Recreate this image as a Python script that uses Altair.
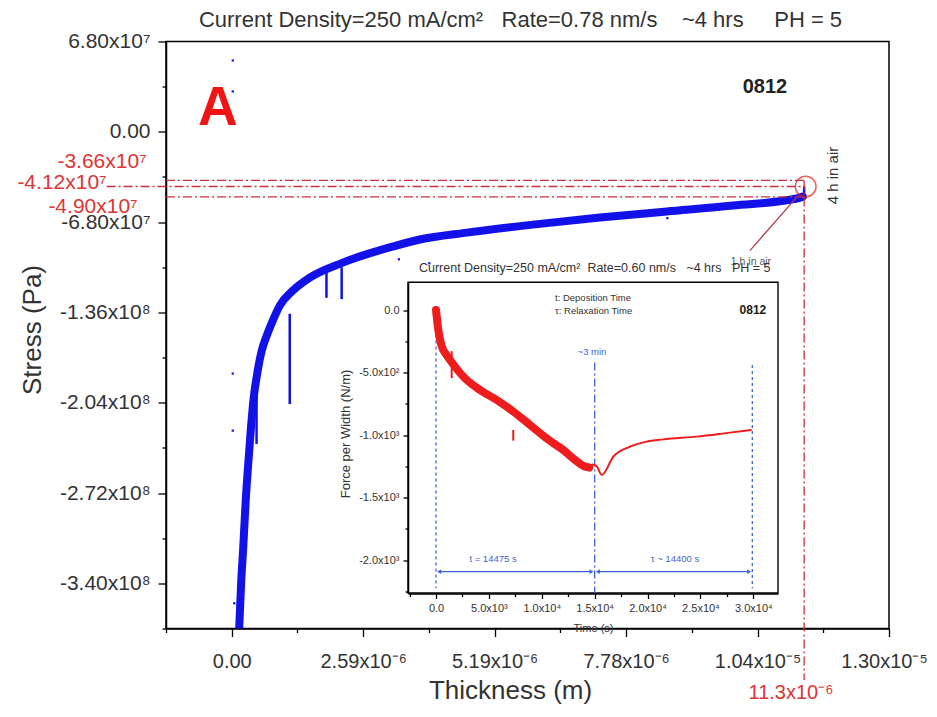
import altair as alt
import pandas as pd

SANS = "Liberation Sans, Arial, sans-serif"

# ---------------- main data: stress vs thickness ----------------
thickness = [0.148e-6, 0.188e-6, 0.227e-6, 0.276e-6, 0.326e-6, 0.375e-6, 0.434e-6,
             0.513e-6, 0.592e-6, 0.691e-6, 0.810e-6, 0.948e-6, 1.205e-6, 1.540e-6,
             2.192e-6, 3.179e-6, 3.712e-6, 4.641e-6, 5.944e-6, 7.267e-6, 8.590e-6,
             9.893e-6, 11.157e-6, 11.275e-6]
stress = [-3.734e8, -3.380e8, -3.132e8, -2.778e8, -2.499e8, -2.250e8, -2.002e8,
          -1.798e8, -1.648e8, -1.535e8, -1.422e8, -1.309e8, -1.196e8, -1.098e8,
          -9.85e7, -8.64e7, -8.11e7, -7.59e7, -6.99e7, -6.46e7, -6.00e7,
          -5.55e7, -5.02e7, -4.88e7]

spike_x = [0.49e-6, 1.145e-6, 1.87e-6, 2.17e-6, 11.3e-6]
spike_top = [-1.90e8, -1.37e8, -1.05e8, -1.02e8, -4.12e7]
spike_bottom = [-2.35e8, -2.05e8, -1.25e8, -1.26e8, -4.90e7]

outlier_x = [0.02e-6, 0.02e-6, 0.02e-6, 0.02e-6, 0.05e-6, 0.12e-6, 3.3e-6, 3.9e-6, 8.6e-6]
outlier_y = [5.37e7, 3.04e7, -1.82e8, -2.25e8, -3.55e8, -3.62e8, -9.6e7, -9.9e7, -6.5e7]

marker_levels = [-3.66e7, -4.12e7, -4.90e7]
marker_labels = ["-3.66x10\u2077", "-4.12x10\u2077", "-4.90x10\u2077"]
marker_thickness = 11.3e-6
marker_thickness_label = "11.3x10\u207b\u2076"

x_major = [0.0, 2.595e-6, 5.19e-6, 7.785e-6, 1.038e-5, 1.2975e-5]
x_major_labels = ["0.00", "2.59x10\u207b\u2076", "5.19x10\u207b\u2076", "7.78x10\u207b\u2076",
                  "1.04x10\u207b\u2075", "1.30x10\u207b\u2075"]
x_minor = [-1.2975e-6, 1.2975e-6, 3.8925e-6, 6.4875e-6, 9.0825e-6, 1.16775e-5]
y_major = [6.8e7, 0.0, -6.8e7, -1.36e8, -2.04e8, -2.72e8, -3.40e8]
y_major_labels = ["6.80x10\u2077", "0.00", "-6.80x10\u2077", "-1.36x10\u2078", "-2.04x10\u2078",
                  "-2.72x10\u2078", "-3.40x10\u2078"]
y_minor = [3.4e7, -3.4e7, -1.02e8, -1.70e8, -2.38e8, -3.06e8, -3.74e8]

# ---------------- inset data: force per width vs time ----------------
dep_time = [0, 200, 500, 1000, 1500, 2580, 4160, 5740, 7310, 8890, 10460, 12030, 13300, 14000, 14475]
dep_force = [0, -150, -280, -360, -420, -533, -640, -720, -813, -920, -1027, -1120, -1210, -1250, -1260]
rel_time = [14475, 14800, 15190, 15660, 16760, 18340, 19915, 21480, 24640, 27790, 29840]
rel_force = [-1260, -1235, -1250, -1320, -1173, -1093, -1053, -1035, -1013, -981, -960]
dep_spike_time = [1480, 7300]
dep_spike_top = [-330, -960]
dep_spike_bottom = [-545, -1045]

phase_lines_time = [0, 15000, 29900]
phase_lines_top = [-100, -420, -440]
phase_lines_bottom = [-2225, -2264, -2225]
arrow_level = -2093
arrow_start = [300, 15300]
arrow_end = [14700, 29600]

ix_major = [0, 5000, 10000, 15000, 20000, 25000, 30000]
ix_major_labels = ["0.0", "5.0x10\u00b3", "1.0x10\u2074", "1.5x10\u2074", "2.0x10\u2074",
                   "2.5x10\u2074", "3.0x10\u2074"]
ix_minor = [-2500, 2500, 7500, 12500, 17500, 22500, 27500]
iy_major = [0, -500, -1000, -1500, -2000]
iy_major_labels = ["0.0", "-5.0x10\u00b2", "-1.0x10\u00b3", "-1.5x10\u00b3", "-2.0x10\u00b3"]
iy_minor = [-250, -750, -1250, -1750, -2250]

NB = "\u00a0"
main_title = ("Current Density=250 mA/cm\u00b2" + NB * 3 + "Rate=0.78 nm/s" + NB * 4 +
              "~4 hrs" + NB * 5 + "PH = 5")
inset_title_text = ("Current Density=250 mA/cm\u00b2" + NB * 2 + "Rate=0.60 nm/s" + NB * 3 +
                    "~4 hrs" + NB * 3 + "PH = 5")


def label_expr(values, labels, eps):
    expr = "''"
    for v, lab in reversed(list(zip(values, labels))):
        expr = f"(abs(datum.value - ({v!r})) < {eps}) ? '{lab}' : ({expr})"
    return expr


def major_test(values, eps):
    return " || ".join(f"abs(datum.value - ({v!r})) < {eps}" for v in values)


def make_axis(orient, major, labels, minor, eps, big, small, font_size, title, title_size,
              **extra):
    return alt.Axis(
        orient=orient,
        values=sorted(major + minor),
        labelExpr=label_expr(major, labels, eps),
        tickSize={"condition": {"test": major_test(major, eps), "value": big}, "value": small},
        tickColor="black", tickWidth=1.3, domainColor="black", domainWidth=1.5,
        labelFont=SANS, labelFontSize=font_size, labelColor="#333333",
        labelOverlap=False, labelFlush=False, labelBound=False,
        grid=False, title=title, titleFont=SANS, titleFontSize=title_size,
        titleFontWeight="normal", titleColor="#333333", **extra)


# ---------------- main scales / axes ----------------
xs = alt.Scale(domain=[-1.2975e-6, 1.2975e-5], nice=False, zero=False)
ys = alt.Scale(domain=[-3.74e8, 6.8e7], nice=False, zero=False)
x_axis = make_axis("bottom", x_major, x_major_labels, x_minor, 1e-9, 8, 4, 20,
                   "Thickness (m)", 26, labelPadding=15, titleX=344, titleY=62,
                   titleBaseline="middle", titleAlign="center",
                   labelOffset={"condition": {"test": f"datum.value > {x_major[-2] * 1.1!r}",
                                              "value": -5}, "value": 0})
y_axis = make_axis("left", y_major, y_major_labels, y_minor, 1e3, 8, 4, 21,
                   "Stress (Pa)", 26, labelPadding=8, titleX=-134, titleY=288,
                   titleBaseline="middle", titleAlign="center", titleAngle=270)


def MX(f):
    return alt.X(f"{f}:Q", scale=xs, axis=x_axis)


def MY(f):
    return alt.Y(f"{f}:Q", scale=ys, axis=y_axis)


BLUE = "#1212e8"
RED_DASH = "#c9303c"
RED_TXT = "#dd3535"

curve = alt.Chart(pd.DataFrame({"t": thickness, "s": stress})).mark_line(
    color=BLUE, strokeWidth=8, interpolate="monotone", clip=True,
    strokeCap="round", strokeJoin="round").encode(x=MX("t"), y=MY("s"))

spikes = alt.Chart(pd.DataFrame({"t": spike_x, "top": spike_top, "bot": spike_bottom})).mark_rule(
    color=BLUE, strokeWidth=2.5).encode(x=MX("t"), y=MY("top"), y2="bot")

outliers = alt.Chart(pd.DataFrame({"t": outlier_x, "s": outlier_y})).mark_point(
    color=BLUE, filled=True, size=5, shape="square", opacity=1).encode(x=MX("t"), y=MY("s"))

hl = pd.DataFrame({"level": marker_levels,
                   "x0": [-1.2975e-6, -2.47e-6, -1.2975e-6],
                   "x1": [marker_thickness] * 3})
hlines = alt.Chart(hl).mark_rule(color=RED_DASH, strokeWidth=1.3, strokeDash=[9, 3, 2, 3],
                                 clip=False).encode(x=MX("x0"), x2="x1", y=MY("level"))

vline = alt.Chart(pd.DataFrame({"t": [marker_thickness], "s": [marker_levels[0]]})).mark_rule(
    color=RED_DASH, strokeWidth=1.3, strokeDash=[9, 3, 2, 3], clip=False).encode(
    x=MX("t"), y=MY("s"), y2=alt.value(638.5))

red_lab = pd.DataFrame({"label": marker_labels,
                        "x": [-1.678e-6, -2.468e-6, -1.856e-6],
                        "y": [-2.29e7, -3.89e7, -5.68e7]})
red_labels = alt.Chart(red_lab).mark_text(
    color=RED_TXT, font=SANS, fontSize=21, align="right", baseline="middle").encode(
    x=MX("x"), y=MY("y"), text="label:N")

thick_lab = alt.Chart(pd.DataFrame({"x": [11.04e-6], "y": [-4.224e8],
                                    "label": [marker_thickness_label]})).mark_text(
    color=RED_TXT, font=SANS, fontSize=20, align="center", baseline="middle").encode(
    x=MX("x"), y=MY("y"), text="label:N")

circle = alt.Chart(pd.DataFrame({"x": [11.33e-6], "y": [-4.12e7]})).mark_point(
    shape="circle", filled=False, size=430, color="#e02020", strokeWidth=1.5).encode(
    x=MX("x"), y=MY("y"))

pointer = alt.Chart(pd.DataFrame({"x": [11.15e-6], "x2": [10.23e-6],
                                  "y": [-4.93e7], "y2": [-8.94e7]})).mark_rule(
    color="#b03a48", strokeWidth=1.2).encode(x=MX("x"), x2="x2", y=MY("y"), y2="y2")

letter_a = alt.Chart(pd.DataFrame({"x": [-0.276e-6], "y": [1.83e7], "label": ["A"]})).mark_text(
    color="#f01414", font=SANS, fontSize=55, fontWeight="bold", baseline="middle").encode(
    x=MX("x"), y=MY("y"), text="label:N")

code_main = alt.Chart(pd.DataFrame({"x": [10.525e-6], "y": [3.34e7], "label": ["0812"]})).mark_text(
    color="#222222", font=SANS, fontSize=20, fontWeight="bold", baseline="middle").encode(
    x=MX("x"), y=MY("y"), text="label:N")

air4 = alt.Chart(pd.DataFrame({"x": [11.87e-6], "y": [-3.29e7], "label": ["4 h in air"]})).mark_text(
    color="#333333", font=SANS, fontSize=15, angle=270, baseline="middle").encode(
    x=MX("x"), y=MY("y"), text="label:N")

air1 = alt.Chart(pd.DataFrame({"x": [10.25e-6], "y": [-9.77e7], "label": ["1 h in air"]})).mark_text(
    color="#555555", font=SANS, fontSize=10.5, baseline="middle").encode(
    x=MX("x"), y=MY("y"), text="label:N")

main = alt.layer(curve, spikes, outliers, hlines, vline, red_labels, thick_lab, circle,
                 pointer, letter_a, code_main, air4, air1)

# ---------------- inset scales / axes ----------------
ixs = alt.Scale(domain=[-2650, 32330], range=[242, 612], nice=False, zero=False)
iys = alt.Scale(domain=[-2264, 221.6], range=[551.5, 240.8], nice=False, zero=False)
ix_axis = make_axis("bottom", ix_major, ix_major_labels, ix_minor, 1, 5, 3, 11,
                    "Time (s)", 11, offset=-35, zindex=1, labelPadding=4,
                    titleY=35, titleBaseline="middle")
iy_axis = make_axis("left", iy_major, iy_major_labels, iy_minor, 1, 5, 3, 11,
                    "Force per Width  (N/m)", 13, offset=-242, zindex=1, labelPadding=4,
                    titleX=-63, titleY=392, titleBaseline="middle", titleAlign="center",
                    titleAngle=270)


def IX(f):
    return alt.X(f"{f}:Q", scale=ixs, axis=ix_axis)


def IY(f):
    return alt.Y(f"{f}:Q", scale=iys, axis=iy_axis)


IRED = "#ee1c1c"
IBLUE = "#3f64d8"

frame = alt.Chart(pd.DataFrame({"x0": [-2650], "x1": [32330], "y0": [-2264], "y1": [221.6]})).mark_rect(
    fill="white", stroke="black", strokeWidth=1.4).encode(x=IX("x0"), x2="x1", y=IY("y0"), y2="y1")

dep = alt.Chart(pd.DataFrame({"t": dep_time, "f": dep_force})).mark_line(
    color=IRED, strokeWidth=8, interpolate="monotone", strokeCap="round").encode(x=IX("t"), y=IY("f"))

dep_sp = alt.Chart(pd.DataFrame({"t": dep_spike_time, "top": dep_spike_top,
                                 "bot": dep_spike_bottom})).mark_rule(
    color=IRED, strokeWidth=2).encode(x=IX("t"), y=IY("top"), y2="bot")

rel = alt.Chart(pd.DataFrame({"t": rel_time, "f": rel_force})).mark_line(
    color=IRED, strokeWidth=2, interpolate="monotone").encode(x=IX("t"), y=IY("f"))

pl = pd.DataFrame({"t": phase_lines_time, "top": phase_lines_top, "bot": phase_lines_bottom})
phase_dash = alt.Chart(pl.iloc[[0, 2]]).mark_rule(
    color=IBLUE, strokeWidth=1.3, strokeDash=[3, 3]).encode(x=IX("t"), y=IY("top"), y2="bot")
phase_mid = alt.Chart(pl.iloc[[1]]).mark_rule(
    color=IBLUE, strokeWidth=1.3, strokeDash=[8, 3, 2, 3]).encode(x=IX("t"), y=IY("top"), y2="bot")

arr = pd.DataFrame({"a": arrow_start, "b": arrow_end, "f": [arrow_level] * 2})
arrows = alt.Chart(arr).mark_rule(color=IBLUE, strokeWidth=1.3).encode(
    x=IX("a"), x2="b", y=IY("f"))
heads_l = alt.Chart(arr).mark_point(shape="triangle-left", filled=True, size=22,
                                    color=IBLUE, opacity=1).encode(x=IX("a"), y=IY("f"))
heads_r = alt.Chart(arr).mark_point(shape="triangle-right", filled=True, size=22,
                                    color=IBLUE, opacity=1).encode(x=IX("b"), y=IY("f"))

blue_txt = pd.DataFrame({"t": [14745, 5390, 22590], "f": [-336, -1992, -1992],
                         "label": ["~3 min", "t = 14475 s", "\u03c4 ~ 14400 s"]})
blue_labels = alt.Chart(blue_txt).mark_text(color=IBLUE, font=SANS, fontSize=9.5,
                                            baseline="middle").encode(
    x=IX("t"), y=IY("f"), text="label:N")

legend_txt = pd.DataFrame({"t": [11250, 11250], "f": [96, -8],
                           "label": ["t: Deposition Time", "\u03c4: Relaxation Time"]})
legend_labels = alt.Chart(legend_txt).mark_text(color="#333333", font=SANS, fontSize=9.5,
                                                align="left", baseline="middle").encode(
    x=IX("t"), y=IY("f"), text="label:N")

code_inset = alt.Chart(pd.DataFrame({"t": [29960], "f": [0], "label": ["0812"]})).mark_text(
    color="#222222", font=SANS, fontSize=12, fontWeight="bold", baseline="middle").encode(
    x=IX("t"), y=IY("f"), text="label:N")

inset_title = alt.Chart(pd.DataFrame({"t": [15000], "f": [336], "label": [inset_title_text]})
                        ).mark_text(color="#333333", font=SANS, fontSize=12.5,
                                    baseline="middle").encode(
    x=IX("t"), y=IY("f"), text="label:N")

inset = alt.layer(frame, phase_dash, phase_mid, dep, dep_sp, rel, arrows, heads_l, heads_r,
                  blue_labels, legend_labels, code_inset, inset_title)

chart = alt.layer(main, inset).resolve_scale(x="independent", y="independent").properties(
    width=723, height=587,
    padding={"left": 158, "top": 33.5, "right": 40, "bottom": 78},
    autosize=alt.AutoSizeParams(type="none"),
    title=alt.TitleParams(
        main_title, font=SANS, fontSize=22, fontWeight="normal", color="#333333",
        anchor="middle", frame="group", offset=-1, dx=-7),
).configure_view(stroke="black", strokeWidth=1.5)

chart.save("out.html", embed_options={"renderer": "svg", "actions": False})
